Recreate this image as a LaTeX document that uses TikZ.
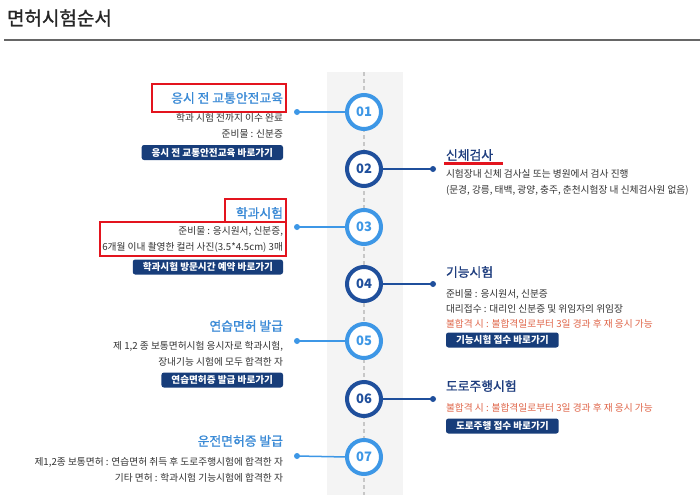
\documentclass[tikz,border=0pt]{standalone}
\usepackage{fontspec}
\newfontfamily\kr{Noto Sans CJK KR}
\newfontfamily\krm[FakeBold=1.0]{Noto Sans CJK KR}
\usetikzlibrary{calc}
\definecolor{lblue}{HTML}{3D97E6}
\definecolor{dblue}{HTML}{1F4F9C}
\definecolor{ltitle}{HTML}{3A8AD6}
\definecolor{rtitle}{HTML}{1E3D7E}
\definecolor{btn}{HTML}{173D7A}
\definecolor{txt}{HTML}{333333}
\definecolor{warn}{HTML}{E0664A}
\definecolor{band}{HTML}{F4F4F4}
\definecolor{markred}{HTML}{E3141E}
\tikzset{
  every node/.style={font=\kr, inner sep=0pt, outer sep=0pt},
  ltitlebox/.style={anchor=east, text=ltitle, font=\krm\fontsize{12.8}{15}\selectfont},
  rtitlebox/.style={anchor=west, text=rtitle, font=\krm\fontsize{12.8}{15}\selectfont},
  ltext/.style={anchor=east, text=txt, font=\kr\fontsize{9.7}{11}\selectfont},
  rtext/.style={anchor=west, text=txt, font=\kr\fontsize{9.7}{11}\selectfont},
  wtext/.style={anchor=west, text=warn, font=\kr\fontsize{9.7}{11}\selectfont},
  btnbox/.style={fill=btn, rounded corners=2.5pt, text=white, font=\kr\bfseries\fontsize{9.6}{11}\selectfont, minimum height=15pt, inner xsep=10pt},
  stepcircL/.style={circle, draw=lblue, line width=4pt, fill=white, minimum size=34pt, text=lblue, font=\kr\bfseries\fontsize{13}{15}\selectfont},
  stepcircD/.style={circle, draw=dblue, line width=4pt, fill=white, minimum size=34pt, text=dblue, font=\kr\bfseries\fontsize{13}{15}\selectfont},
  dotL/.style={circle, fill=lblue, minimum size=6pt},
  dotD/.style={circle, fill=dblue, minimum size=6pt},
  markbox/.style={draw=markred, line width=2.6pt},
}
\begin{document}
\begin{tikzpicture}[x=1pt,y=-1pt]
\useasboundingbox[fill=white] (0,0) rectangle (700,498);
% header
\node[anchor=west, text=black!85, font=\krm\fontsize{19}{22}\selectfont] (head) at (7,18) {면허시험순서};
\draw[black!60, line width=1.2pt] (4,40) -- (700,40);
% band and dashed axis
\fill[band] (327,72) rectangle (403,495);
\draw[black!22, line width=1.6pt, dash pattern=on 4pt off 3pt] (364,72) -- (364,495);
% circles
\node[stepcircL] (c1) at (364,112) {01};
\node[stepcircD] (c2) at (364,169) {02};
\node[stepcircL] (c3) at (364,227) {03};
\node[stepcircD] (c4) at (364,284) {04};
\node[stepcircL] (c5) at (364,341) {05};
\node[stepcircD] (c6) at (364,399) {06};
\node[stepcircL] (c7) at (364,457) {07};
% dots
\node[dotL] (d1) at (297,112) {};
\node[dotD] (d2) at (433,169) {};
\node[dotL] (d3) at (297,227) {};
\node[dotD] (d4) at (433,284) {};
\node[dotL] (d5) at (297,341) {};
\node[dotD] (d6) at (433,399) {};
\node[dotL] (d7) at (297,456) {};
\draw[lblue, line width=1.5pt] (d1.center) -- (c1.west);
\draw[dblue, line width=1.5pt] (d2.center) -- (c2.east);
\draw[lblue, line width=1.5pt] (d3.center) -- (c3.west);
\draw[dblue, line width=1.5pt] (d4.center) -- (c4.east);
\draw[lblue, line width=1.5pt] (d5.center) -- (c5.west);
\draw[dblue, line width=1.5pt] (d6.center) -- (c6.east);
\draw[lblue, line width=1.5pt] (d7.center) -- (c7.west);
% step 01
\node[ltitlebox] (t1) at (283,98) {응시 전 교통안전교육};
\node[ltext] (t1a) at (283,118) {학과 시험 전까지 이수 완료};
\node[ltext] (t1b) at (283,134) {준비물 : 신분증};
\node[btnbox, anchor=east] (b1) at (283,152.5) {응시 전 교통안전교육 바로가기};
\draw[markbox] (152,84) rectangle (286,112);
% step 02
\node[rtitlebox] (t2) at (446,155) {신체검사};
\draw[markred, line width=2.6pt] (444,163.5) -- (503,163.5);
\node[rtext] (t2a) at (446,174) {시험장내 신체 검사실 또는 병원에서 검사 진행};
\node[rtext] (t2b) at (446,190) {(문경, 강릉, 태백, 광양, 충주, 춘천시험장 내 신체검사원 없음)};
% step 03
\node[ltitlebox] (t3) at (283,213) {학과시험};
\node[ltext] (t3a) at (283,231) {준비물 : 응시원서, 신분증,};
\node[ltext] (t3b) at (283,247) {6개월 이내 촬영한 컬러 사진(3.5*4.5cm) 3매};
\node[btnbox, anchor=east] (b3) at (283,267) {학과시험 방문시간 예약 바로가기};
\draw[markbox] (225,199) rectangle (286,222);
\draw[markbox] (100,222) rectangle (286,256);
% step 04
\node[rtitlebox] (t4) at (446,272) {기능시험};
\node[rtext] (t4a) at (446,294) {준비물 : 응시원서, 신분증};
\node[rtext] (t4b) at (446,309) {대리접수 : 대리인 신분증 및 위임자의 위임장};
\node[wtext] (t4c) at (446,324) {불합격 시 : 불합격일로부터 3일 경과 후 재 응시 가능};
\node[btnbox, anchor=west] (b4) at (446,340) {기능시험 접수 바로가기};
% step 05
\node[ltitlebox] (t5) at (283,326) {연습면허 발급};
\node[ltext] (t5a) at (283,346) {제 1,2 종 보통면허시험 응시자로 학과시험,};
\node[ltext] (t5b) at (283,362) {장내기능 시험에 모두 합격한 자};
\node[btnbox, anchor=east] (b5) at (283,380) {연습면허증 발급 바로가기};
% step 06
\node[rtitlebox] (t6) at (446,386) {도로주행시험};
\node[wtext] (t6a) at (446,408) {불합격 시 : 불합격일로부터 3일 경과 후 재 응시 가능};
\node[btnbox, anchor=west] (b6) at (446,426) {도로주행 접수 바로가기};
% step 07
\node[ltitlebox] (t7) at (283,441) {운전면허증 발급};
\node[ltext] (t7a) at (283,462) {제1,2종 보통면허 : 연습면허 취득 후 도로주행시험에 합격한 자};
\node[ltext] (t7b) at (283,478) {기타 면허 : 학과시험 기능시험에 합격한 자};
\end{tikzpicture}
\end{document}
